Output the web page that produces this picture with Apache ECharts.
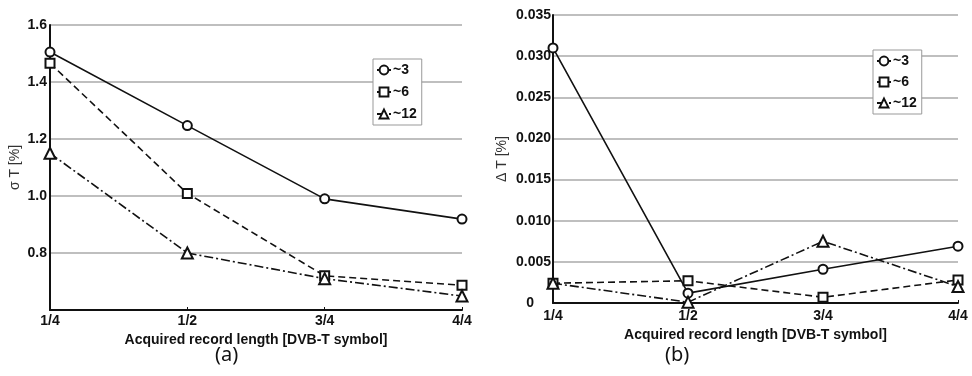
<!DOCTYPE html>
<html><head><meta charset="utf-8">
<script src="https://cdn.jsdelivr.net/npm/echarts@6/dist/echarts.min.js"></script>
<style>html,body{margin:0;padding:0;background:#fff}#c{width:972px;height:376px}</style>
</head><body><div id="c"></div>
<script>
const categories = ['1/4', '1/2', '3/4', '4/4'];
const seriesNames = ['~3', '~6', '~12'];
// panel (a): sigma_T [%]
const sigma3 = [1.505, 1.247, 0.99, 0.919];
const sigma6 = [1.466, 1.009, 0.72, 0.687];
const sigma12 = [1.15, 0.80, 0.71, 0.649];
// panel (b): delta_T [%]
const delta3 = [0.031, 0.0012, 0.0041, 0.0069];
const delta6 = [0.0024, 0.0027, 0.0007, 0.0028];
const delta12 = [0.0024, 0.0001, 0.0075, 0.0020];
const yTicksA = [0.6, 0.8, 1.0, 1.2, 1.4, 1.6];
const yTicksB = [0, 0.005, 0.01, 0.015, 0.02, 0.025, 0.03, 0.035];

const FONT = '"Liberation Sans", Arial, sans-serif';
const symbols = ['emptyCircle', 'emptyRect', 'emptyTriangle'];
const dashes = ['solid', [7, 4], [9, 3, 2, 3]];
const dataA = [sigma3, sigma6, sigma12];
const dataB = [delta3, delta6, delta12];

function mkSeries(data, idx) {
  return data.map((d, i) => ({
    name: seriesNames[i], type: 'line', xAxisIndex: idx, yAxisIndex: idx,
    data: d, symbol: symbols[i], symbolSize: i === 2 ? 11 : 9,
    showAllSymbol: true, animation: false,
    lineStyle: { color: '#111', width: 1.6, type: dashes[i] },
    itemStyle: { color: '#111', borderColor: '#111', borderWidth: 1.5 },
    z: 3
  }));
}

const axisLabelStyle = { color: '#111', fontFamily: FONT, fontWeight: 'bold', fontSize: 14 };
const xName = 'Acquired record length [DVB-T symbol]';

function mkX(idx, margin) {
  return {
    type: 'category', gridIndex: idx, data: categories, boundaryGap: false,
    axisLine: { lineStyle: { color: '#111', width: 2 } },
    axisTick: { show: true, inside: true, length: 3, lineStyle: { color: '#111' } },
    axisLabel: Object.assign({ margin: margin, interval: 0 }, axisLabelStyle),
    splitLine: { show: false },
    name: xName, nameLocation: 'middle', nameGap: 21,
    nameTextStyle: { color: '#111', fontFamily: FONT, fontWeight: 'bold', fontSize: 14 }
  };
}

function mkLegend(left, top, gap) {
  return {
    data: seriesNames, orient: 'vertical', left: left, top: top,
    padding: [4, 5, 4, 3], itemGap: gap, itemWidth: 14, itemHeight: 11,
    borderColor: '#999', borderWidth: 1, backgroundColor: '#fff',
    textStyle: { color: '#111', fontFamily: FONT, fontWeight: 'bold', fontSize: 14, padding: [0, 0, 0, -3] },
    selectedMode: false
  };
}

const option = {
  backgroundColor: '#fff',
  animation: false,
  grid: [
    { left: 50, right: 510, top: 25, bottom: 66 },
    { left: 553, right: 14, top: 15, bottom: 73 }
  ],
  legend: [mkLegend(373, 59, 8), mkLegend(873, 50, 7)],
  xAxis: [mkX(0, 4), mkX(1, 6)],
  yAxis: [
    {
      type: 'value', gridIndex: 0, min: yTicksA[0], max: yTicksA[yTicksA.length - 1], interval: 0.2,
      axisLine: { show: true, lineStyle: { color: '#111', width: 2 } },
      axisTick: { show: false },
      axisLabel: Object.assign({ margin: 3, formatter: v => Math.abs(v - 0.6) < 1e-9 ? '' : v.toFixed(1) }, axisLabelStyle),
      splitLine: { show: true, lineStyle: { color: '#aaa', width: 1.5 } },
      name: 'σ T [%]', nameLocation: 'middle', nameGap: 28, nameRotate: 90,
      nameTextStyle: { color: '#333', fontFamily: FONT, fontSize: 14 }
    },
    {
      type: 'value', gridIndex: 1, min: yTicksB[0], max: yTicksB[yTicksB.length - 1], interval: 0.005,
      axisLine: { show: true, lineStyle: { color: '#111', width: 2 } },
      axisTick: { show: false },
      axisLabel: Object.assign({
        margin: 2,
        formatter: v => Math.abs(v) < 1e-12 ? '{z|0}' : v.toFixed(3),
        rich: { z: { color: '#111', fontFamily: FONT, fontWeight: 'bold', fontSize: 14, padding: [0, 17, 0, 0] } }
      }, axisLabelStyle),
      splitLine: { show: true, lineStyle: { color: '#aaa', width: 1.5 } },
      name: 'Δ T [%]', nameLocation: 'middle', nameGap: 44, nameRotate: 90,
      nameTextStyle: { color: '#333', fontFamily: FONT, fontSize: 14 }
    }
  ],
  series: mkSeries(dataA, 0).concat(mkSeries(dataB, 1)),
  graphic: [
    { type: 'text', left: 215, top: 345, style: { text: '(a)', fontFamily: '"Noto Sans", sans-serif', fontSize: 20, fill: '#111' } },
    { type: 'text', left: 665, top: 345, style: { text: '(b)', fontFamily: '"Noto Sans", sans-serif', fontSize: 20, fill: '#111' } }
  ]
};
const chart = echarts.init(document.getElementById('c'), null, { renderer: 'canvas' });
chart.setOption(option);
</script></body></html>
